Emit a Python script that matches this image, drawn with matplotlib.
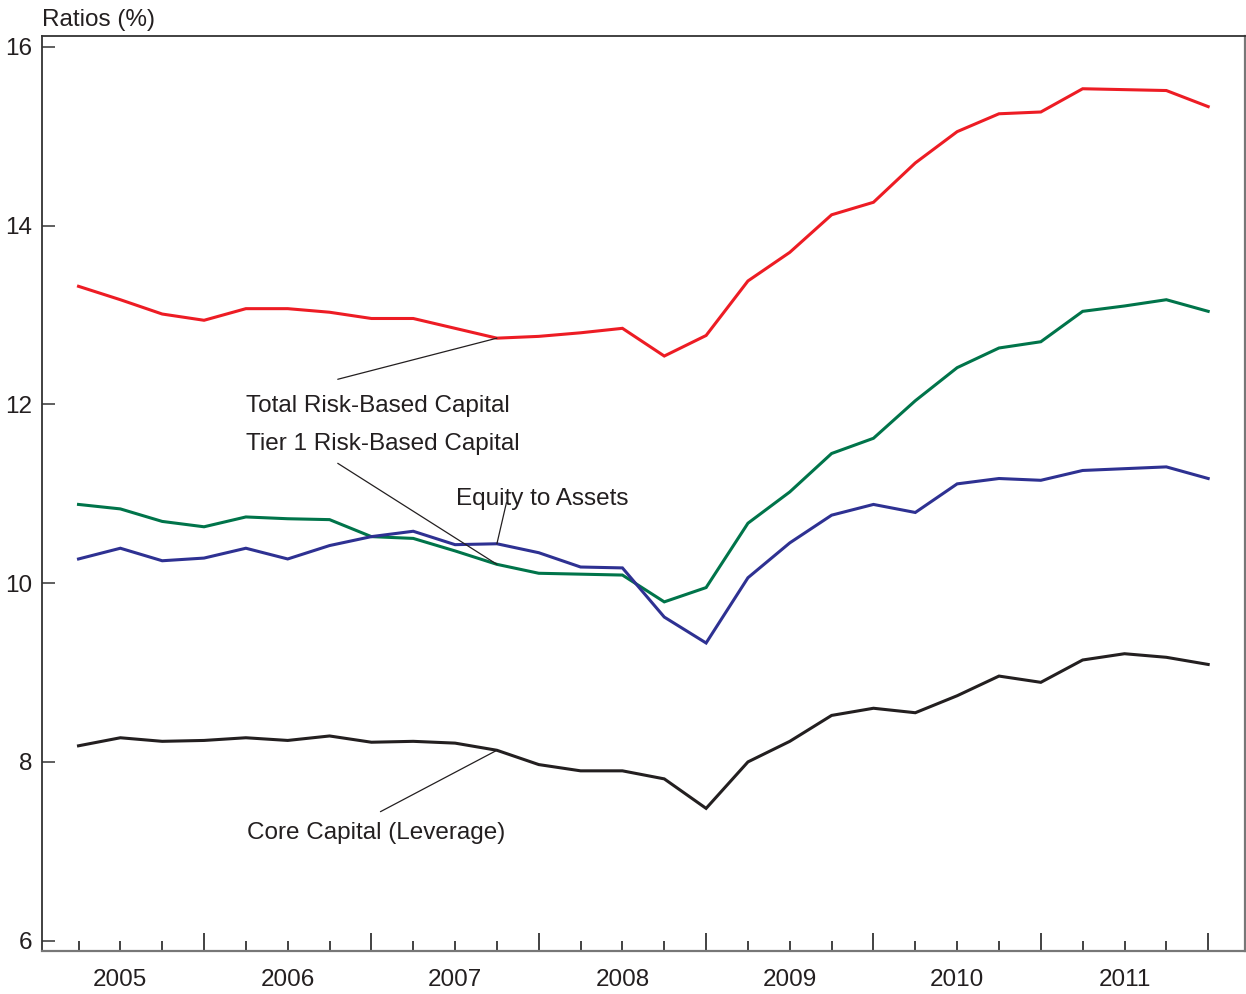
import numpy as np
import matplotlib.pyplot as plt

plt.rcParams['font.family'] = ['Liberation Sans', 'DejaVu Sans']

# quarter ends, 2005Q1 .. 2011Q4
quarters = 2005 + np.arange(1, 29) / 4.0

total_rbc = [13.32, 13.17, 13.01, 12.94, 13.07, 13.07, 13.03, 12.96, 12.96, 12.85,
             12.74, 12.76, 12.80, 12.85, 12.54, 12.77, 13.38, 13.70, 14.12, 14.26,
             14.70, 15.05, 15.25, 15.27, 15.53, 15.52, 15.51, 15.33]
tier1_rbc = [10.88, 10.83, 10.69, 10.63, 10.74, 10.72, 10.71, 10.52, 10.50, 10.36,
             10.21, 10.11, 10.10, 10.09, 9.79, 9.95, 10.67, 11.02, 11.45, 11.62,
             12.04, 12.41, 12.63, 12.70, 13.04, 13.10, 13.17, 13.04]
equity_assets = [10.27, 10.39, 10.25, 10.28, 10.39, 10.27, 10.42, 10.52, 10.58, 10.43,
                 10.44, 10.34, 10.18, 10.17, 9.62, 9.33, 10.06, 10.45, 10.76, 10.88,
                 10.79, 11.11, 11.17, 11.15, 11.26, 11.28, 11.30, 11.17]
core_capital = [8.18, 8.27, 8.23, 8.24, 8.27, 8.24, 8.29, 8.22, 8.23, 8.21,
                8.13, 7.97, 7.90, 7.90, 7.81, 7.48, 8.00, 8.23, 8.52, 8.60,
                8.55, 8.74, 8.96, 8.89, 9.14, 9.21, 9.17, 9.09]

years = [2005, 2006, 2007, 2008, 2009, 2010, 2011]
year_labels = [str(y) for y in years]

txt = '#231F20'
fs = 17.5

fig = plt.figure(figsize=(12.46, 9.94), dpi=100)
ax = fig.add_axes([41.7 / 1246, 1 - 950.7 / 994, (1245 - 41.7) / 1246, (950.7 - 36) / 994])

ax.plot(quarters, total_rbc, color='#ED1C24', lw=2.2, solid_joinstyle='miter')
ax.plot(quarters, tier1_rbc, color='#00744A', lw=2.2, solid_joinstyle='miter')
ax.plot(quarters, equity_assets, color='#2E3192', lw=2.2, solid_joinstyle='miter')
ax.plot(quarters, core_capital, color='#231F20', lw=2.2, solid_joinstyle='miter')

ax.set_xlim(2005.03, 2012.22)
ax.set_ylim(5.888, 16.12)

# y ticks
ax.set_yticks([6, 8, 10, 12, 14, 16])
ax.tick_params(axis='y', direction='in', length=9, width=1.2, color='#444444',
               labelsize=fs, labelcolor=txt, pad=7)

# x ticks: long at year ends, short at other quarter ends
year_ends = [y + 1 for y in years]
ax.set_xticks(year_ends)
ax.set_xticks([q for q in quarters if q not in year_ends], minor=True)
ax.tick_params(axis='x', which='major', direction='in', length=13, width=1.2,
               color='#222222', labelbottom=False)
ax.tick_params(axis='x', which='minor', direction='in', length=7.2, width=1.2,
               color='#222222', labelbottom=False)

sec = ax.secondary_xaxis('bottom')
sec.set_xticks([y + 0.5 for y in years], year_labels)
sec.tick_params(length=0, pad=13, labelsize=fs, labelcolor=txt)
sec.spines['bottom'].set_visible(False)

for side in ['left', 'top']:
    ax.spines[side].set_color('#333333')
    ax.spines[side].set_linewidth(1.3)
for side in ['bottom', 'right']:
    ax.spines[side].set_color('#777777')
    ax.spines[side].set_linewidth(1.6)

fig.text(41.7 / 1246, 1 - 26 / 994, 'Ratios (%)', fontsize=fs, color=txt, va='baseline')

# labels with leader lines to the 2007Q3 point
k = 10
lp = dict(arrowstyle='-', color='#231F20', lw=0.9, shrinkA=0, shrinkB=0)
ax.text(2006.253, 11.917, 'Total Risk-Based Capital', fontsize=fs, color=txt, va='baseline')
ax.annotate('', xy=(quarters[k], total_rbc[k]), xytext=(2006.799, 12.28), arrowprops=lp)
ax.text(2006.253, 11.489, 'Tier 1 Risk-Based Capital', fontsize=fs, color=txt, va='baseline')
ax.annotate('', xy=(quarters[k], tier1_rbc[k]), xytext=(2006.799, 11.34), arrowprops=lp)
ax.text(2007.508, 10.874, 'Equity to Assets', fontsize=fs, color=txt, va='baseline')
ax.annotate('', xy=(quarters[k], equity_assets[k]), xytext=(2007.807, 10.90), arrowprops=lp)
ax.text(2006.257, 7.134, 'Core Capital (Leverage)', fontsize=fs, color=txt, va='baseline')
ax.annotate('', xy=(quarters[k], core_capital[k]), xytext=(2007.054, 7.443), arrowprops=lp)

fig.savefig('out.png', dpi=100)
